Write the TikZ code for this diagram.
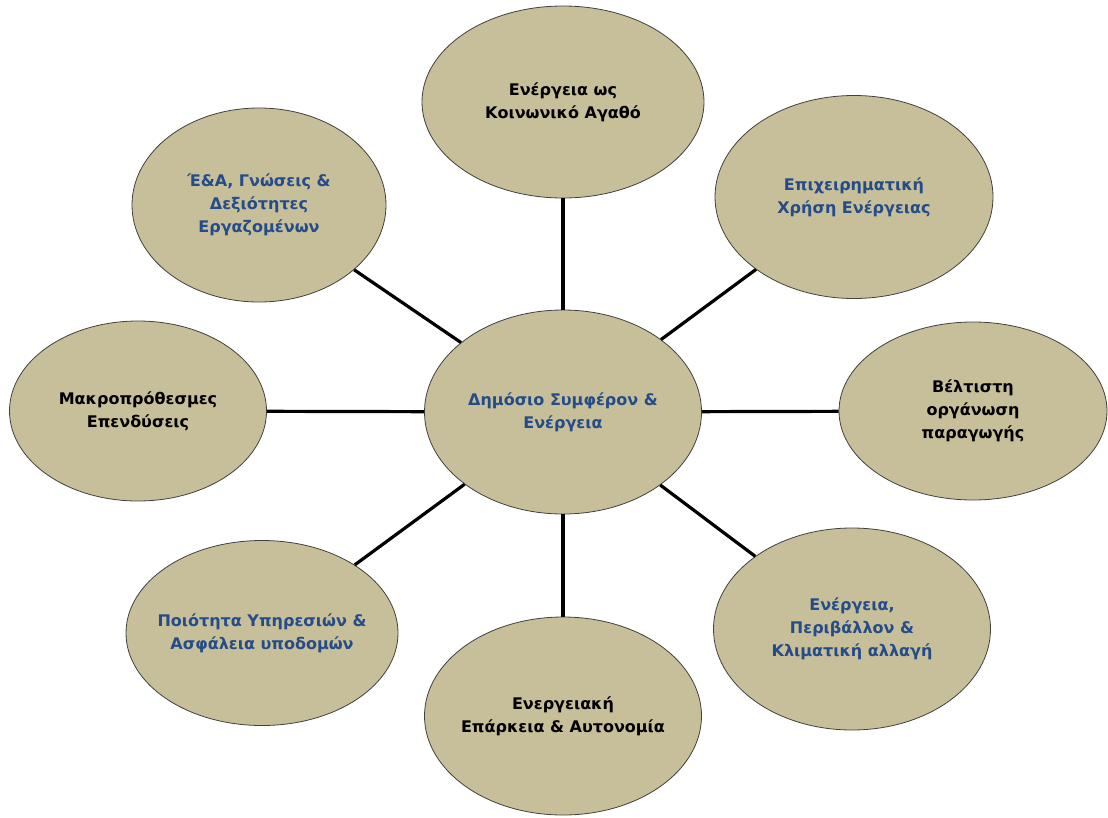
\documentclass[tikz,border=0pt]{standalone}
\usepackage{fontspec}
\setmainfont{DejaVu Sans}
\usetikzlibrary{shapes.geometric}
\definecolor{khaki}{RGB}{199,191,153}
\definecolor{darkblue}{RGB}{36,76,136}
\begin{document}
\begin{tikzpicture}[x=1pt,y=-1pt,
   every node/.style={ellipse, draw=black!75, line width=0.8pt, fill=khaki,
                      align=center, inner xsep=-25pt, inner ysep=0pt,
                      font=\bfseries\fontsize{16}{23}\selectfont},
   blue/.style={text=darkblue},
   spoke/.style={line width=3.2pt}]

\useasboundingbox (0,0) rectangle (1108,817);

\node[minimum width=277, minimum height=204, blue] (centre) at (563,412) {Δημόσιο Συμφέρον \&\\Ενέργεια};
\node[minimum width=282, minimum height=192] (top) at (563,102) {Ενέργεια ως\\Κοινωνικό Αγαθό};
\node[minimum width=278, minimum height=203, blue] (topright) at (854,197) {Επιχειρηματική\\Χρήση Ενέργειας};
\node[minimum width=268, minimum height=178] (right) at (973,411) {Βέλτιστη\\οργάνωση\\παραγωγής};
\node[minimum width=277, minimum height=202, blue] (botright) at (852,629) {Ενέργεια,\\Περιβάλλον \&\\Κλιματική αλλαγή};
\node[minimum width=277, minimum height=198] (bottom) at (563,716) {Ενεργειακή\\Επάρκεια \& Αυτονομία};
\node[minimum width=272, minimum height=185, blue] (botleft) at (262,633) {Ποιότητα Υπηρεσιών \&\\Ασφάλεια υποδομών};
\node[minimum width=257, minimum height=180] (left) at (138,411) {Μακροπρόθεσμες\\Επενδύσεις};
\node[minimum width=254, minimum height=194, blue] (topleft) at (259,205) {Έ\&Α, Γνώσεις \&\\Δεξιότητες\\Εργαζομένων};

\foreach \n in {top,topright,right,botright,bottom,botleft,left,topleft}
   \draw[spoke] (centre) -- (\n);

\end{tikzpicture}
\end{document}
